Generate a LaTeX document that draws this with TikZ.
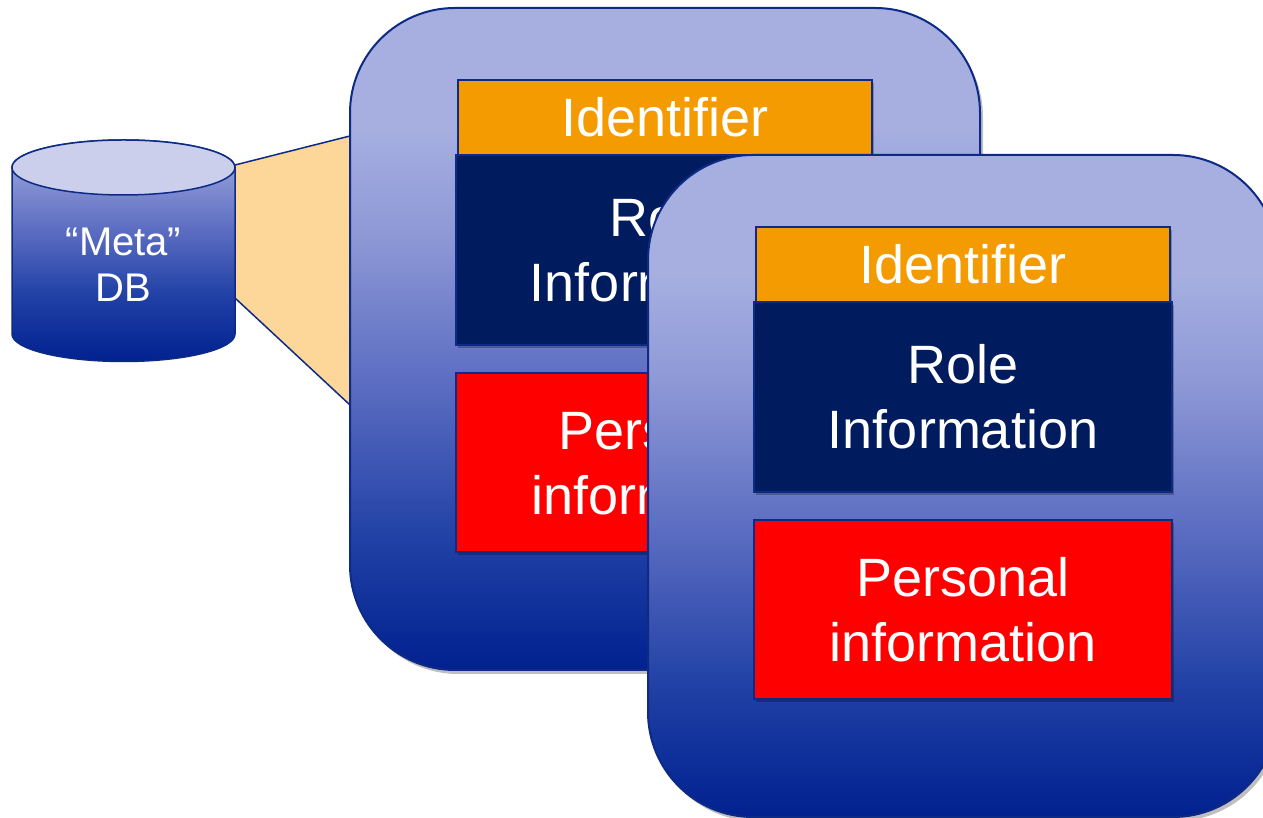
\documentclass[tikz,border=0pt]{standalone}
\usepackage{fontspec}
\setmainfont{Liberation Sans}
\usetikzlibrary{shadows}
\definecolor{cb0}{HTML}{00218F}
\definecolor{cb1}{HTML}{2141A6}
\definecolor{cb2}{HTML}{5D6EC2}
\definecolor{cb3}{HTML}{8E99D6}
\definecolor{cb4}{HTML}{A7AFE1}
\definecolor{cyltop}{HTML}{CBCFEB}
\definecolor{edge}{HTML}{0D2A85}
\definecolor{idorange}{HTML}{F39B00}
\definecolor{rolenavy}{HTML}{001C5E}
\definecolor{persred}{HTML}{FF0000}
\definecolor{trap}{HTML}{FDD699}
\pgfdeclareverticalshading{cardshade}{100bp}{color(0bp)=(cb0); color(25bp)=(cb0); color(35bp)=(cb1); color(47bp)=(cb2); color(58bp)=(cb3); color(66bp)=(cb4); color(100bp)=(cb4)}
\pgfdeclareverticalshading{cylshade}{100bp}{color(0bp)=(cb0); color(25bp)=(cb0); color(40bp)=(cb1); color(55bp)=(cb2); color(75bp)=(cb4); color(100bp)=(cb4)}
\tikzset{
  card/.style={draw=edge, line width=2pt, rounded corners=105pt, shading=cardshade,
    drop shadow={shadow xshift=3pt, shadow yshift=-4pt, opacity=0.25, fill=black}},
  box/.style={draw=edge, line width=1.5pt, text=white, align=center,
    font=\fontsize{54pt}{65pt}\selectfont, inner sep=0pt,
    drop shadow={shadow xshift=2pt, shadow yshift=-3pt, opacity=0.25, fill=black}},
  idbox/.style={box, fill=idorange, minimum width=414pt, minimum height=75pt},
  rolebox/.style={box, fill=rolenavy, minimum width=418pt, minimum height=190pt},
  persbox/.style={box, fill=persred, minimum width=418pt, minimum height=179pt},
}
\begin{document}
\begin{tikzpicture}[x=1pt,y=1pt]
\clip (0,0) rectangle (1263,818);
\fill[white] (0,0) rectangle (1263,818);
% link trapezoid
\coordinate (t1) at (235,653);
\coordinate (t2) at (350,682);
\coordinate (t3) at (350,413);
\coordinate (t4) at (235,520);
\fill[trap] (t1) -- (t2) -- (t3) -- (t4) -- cycle;
\draw[edge, line width=1.5pt] (t1) -- (t2) (t4) -- (t3);
% cylinder
\draw[edge, line width=1.5pt, shading=cylshade]
  (12,650.5) -- (12,484) arc (180:360:111.5 and 27.5) -- (235,650.5) arc (0:180:111.5 and 27.5) -- cycle;
\draw[edge, line width=1.5pt, fill=cyltop] (123.5,650.5) ellipse (111.5 and 27.5);
\node[text=white, align=center, font=\fontsize{40pt}{46pt}\selectfont] (db) at (123.5,553) {“Meta”\\DB};
% card 1
\path[card] (350,148) rectangle (980,810);
\node[idbox] (id1) at (665,700.5) {Identifier};
\node[rolebox] (role1) at (665,568) {Role\\Information};
\node[persbox] (pers1) at (665,355.5) {Personal\\information};
% card 2
\path[card] (648,1) rectangle (1278,663);
\node[idbox] (id2) at (963,553.5) {Identifier};
\node[rolebox] (role2) at (963,421) {Role\\Information};
\node[persbox] (pers2) at (963,208.5) {Personal\\information};
\end{tikzpicture}
\end{document}
